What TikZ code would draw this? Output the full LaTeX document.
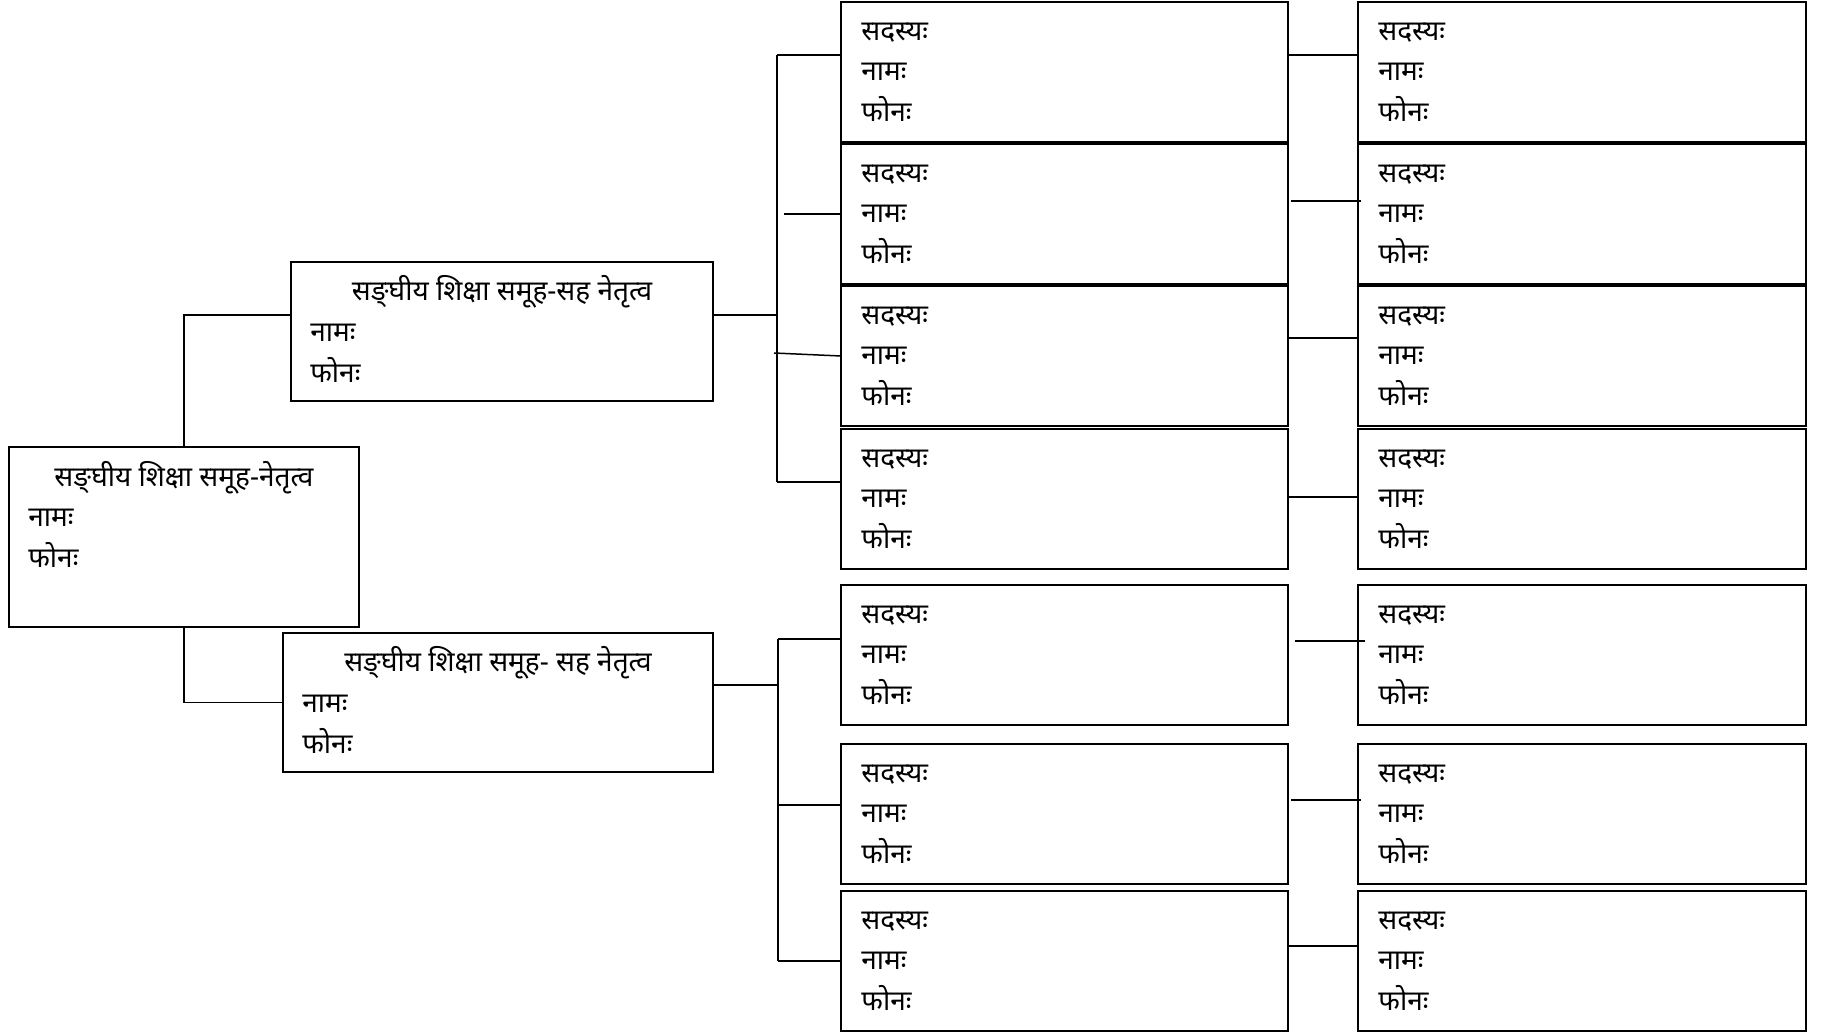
\documentclass[tikz,border=0pt]{standalone}
\usepackage{fontspec}
\newfontfamily\dev[Script=Devanagari]{Noto Sans}
\usetikzlibrary{calc}
\begin{document}
\begin{tikzpicture}[x=0.5pt,y=-0.5pt,
  box/.style={draw, line width=1pt, anchor=north west, inner sep=0pt, outer sep=0pt},
  lbl/.style={anchor=base west, inner sep=0pt, font=\dev\fontsize{14}{16}\selectfont},
  ttl/.style={anchor=base, inner sep=0pt, font=\dev\fontsize{14}{16}\selectfont},
  conn/.style={line width=0.75pt}]
\useasboundingbox (0,0) rectangle (1834,1032);

% root
\node[box, minimum width=175pt, minimum height=90pt] (root) at (9,447) {};
\node[ttl] (roott) at (184,486) {सङ्^^^^200cघीय शिक्षा समूह-नेतृत्व};
\node[lbl] (rootb) at (28,526) {नामः};
\node[lbl] (rootc) at (28,567) {फोनः};

% co-leads
\node[box, minimum width=211pt, minimum height=69.5pt] (cl1) at (291,262) {};
\node[ttl] (cl1t) at (502,300) {सङ्^^^^200cघीय शिक्षा समूह-सह नेतृत्व};
\node[lbl] (cl1b) at (310,341) {नामः};
\node[lbl] (cl1c) at (310,382) {फोनः};

\node[box, minimum width=215pt, minimum height=69.5pt] (cl2) at (283,633) {};
\node[ttl] (cl2t) at (498,671) {सङ्^^^^200cघीय शिक्षा समूह- सह नेतृत्व};
\node[lbl] (cl2b) at (302,712) {नामः};
\node[lbl] (cl2c) at (302,753) {फोनः};

% member columns
\foreach \i/\t in {1/2,2/144,3/286,4/429,5/585,6/744,7/891} {
  \node[box, minimum width=223.5pt, minimum height=70pt] (m\i) at (841,\t) {};
  \node[lbl] (m\i a) at ([xshift=10pt,yshift=-19.25pt]m\i.north west) {सदस्यः};
  \node[lbl] (m\i b) at ([xshift=10pt,yshift=-39.25pt]m\i.north west) {नामः};
  \node[lbl] (m\i c) at ([xshift=10pt,yshift=-59.75pt]m\i.north west) {फोनः};
  \node[box, minimum width=224pt, minimum height=70pt] (r\i) at (1358,\t) {};
  \node[lbl] (r\i a) at ([xshift=10pt,yshift=-19.25pt]r\i.north west) {सदस्यः};
  \node[lbl] (r\i b) at ([xshift=10pt,yshift=-39.25pt]r\i.north west) {नामः};
  \node[lbl] (r\i c) at ([xshift=10pt,yshift=-59.75pt]r\i.north west) {फोनः};
}

% root to co-leads
\draw[conn] (root.north) |- (cl1.west |- 0,315);
\draw[conn] (root.south) |- (cl2.west);

% top group
\coordinate (j1) at (777,315);
\coordinate (j1top) at (777,55);
\coordinate (j1bot) at (777,482);
\coordinate (b2) at (784,214);
\coordinate (b3) at (774,353);
\draw[conn] (cl1.east |- j1) -- (j1);
\draw[conn] (j1top) -- (j1bot);
\draw[conn] (j1top) -- (m1.west |- j1top);
\draw[conn] (b2) -- (m2.west |- b2);
\draw[conn] (b3) -- (m3.west |- 0,356);
\draw[conn] (j1bot) -- (m4.west |- j1bot);

% bottom group
\coordinate (j2) at (778,685);
\coordinate (j2top) at (778,639);
\coordinate (j2mid) at (778,805);
\coordinate (j2bot) at (778,961);
\draw[conn] (cl2.east |- j2) -- (j2);
\draw[conn] (j2top) -- (j2bot);
\draw[conn] (j2top) -- (m5.west |- j2top);
\draw[conn] (j2mid) -- (m6.west |- j2mid);
\draw[conn] (j2bot) -- (m7.west |- j2bot);

% member to member
\draw[conn] (m1.east |- 0,55) -- (r1.west |- 0,55);
\draw[conn] ($(m2.east |- 0,201)+(3,0)$) -- ($(r2.west |- 0,201)+(3,0)$);
\draw[conn] (m3.east |- 0,338) -- (r3.west |- 0,338);
\draw[conn] (m4.east |- 0,497) -- (r4.west |- 0,497);
\draw[conn] ($(m5.east |- 0,641)+(7,0)$) -- ($(r5.west |- 0,641)+(7,0)$);
\draw[conn] ($(m6.east |- 0,800)+(3,0)$) -- ($(r6.west |- 0,800)+(3,0)$);
\draw[conn] (m7.east |- 0,946) -- (r7.west |- 0,946);
\end{tikzpicture}
\end{document}
